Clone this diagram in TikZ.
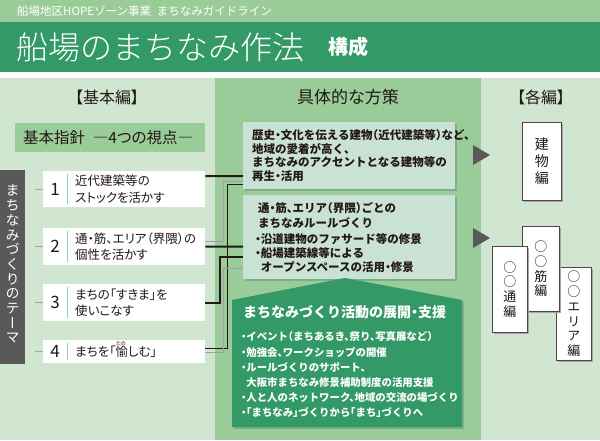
\documentclass[tikz,border=0pt]{standalone}
\usepackage{fontspec}
\setmainfont{Noto Sans CJK JP}[RawFeature=+palt]
\newfontfamily\tatefont{Noto Sans CJK JP}[RawFeature=+vert]
\newfontfamily\halffont{Noto Sans CJK JP}[RawFeature=+halt]
\newfontfamily\plainfont{Noto Sans CJK JP}
\IfFontExistsTF{Noto Sans CJK JP Light}
	{\newfontfamily\thinfont{Noto Sans CJK JP Light}}
	{\newfontfamily\thinfont{Noto Sans CJK JP}}
\usetikzlibrary{calc, positioning, shadows}

\definecolor{headGreen}{HTML}{9ACC98}
\definecolor{darkGreen}{HTML}{339966}
\definecolor{paleGreen}{HTML}{D1E6D1}
\definecolor{midGreen}{HTML}{99CC99}
\definecolor{planGreen}{HTML}{C9E2D5}
\definecolor{shadeGreen}{HTML}{7FAE82}
\definecolor{barGray}{HTML}{595959}
\definecolor{sepTeal}{HTML}{8CCFC0}
\definecolor{inkGray}{HTML}{231815}

\newcommand{\jsize}[2]{\fontsize{#1}{#2}\selectfont}

\tikzset{
	txt/.style={inner sep=0pt, text=inkGray},
	themebox/.style={fill=white, minimum width=162pt, inner sep=0pt, anchor=west},
	planbox/.style={fill=planGreen, inner sep=0pt, anchor=north west, minimum width=212pt,
		drop shadow={shadow xshift=2pt, shadow yshift=-2pt, fill=shadeGreen, opacity=1}},
	bookbox/.style={fill=white, draw=inkGray!80, line width=0.6pt, inner sep=0pt, anchor=north west,
		text=inkGray, align=center, font=\tatefont\jsize{13}{14.7},
		drop shadow={shadow xshift=1.5pt, shadow yshift=-1.5pt, fill=gray!70, opacity=1}},
	thickline/.style={line width=2pt, inkGray},
	thinline/.style={line width=0.8pt, inkGray},
	grayline/.style={line width=0.8pt, gray!75},
	sepline/.style={line width=1pt, sepTeal},
	tickline/.style={line width=0.8pt, gray!70},
}

\begin{document}
\begin{tikzpicture}[x=1pt, y=-1pt]
	\useasboundingbox (0,0) rectangle (600,440);

	% bands and columns
	\fill[headGreen] (0,0) rectangle (600,22);
	\fill[darkGreen] (0,22) rectangle (600,72);
	\fill[paleGreen] (0,78) rectangle (215,440);
	\fill[midGreen] (215,78) rectangle (481,440);
	\fill[paleGreen] (481,78) rectangle (600,440);

	\node[txt, anchor=west, text=white, font=\plainfont\jsize{11.5}{11.5}] (series) at (17,11) {船場地区HOPEゾーン事業\hspace{0.5em}まちなみガイドライン};
	\node[txt, anchor=west, text=white, font=\thinfont\jsize{32}{32}] (title) at (16,47) {船場のまちなみ作法};
	\node[txt, text=white, font=\bfseries\jsize{20}{20}, right=24pt of title] (kousei) {構成};

	% left column
	\node[txt, font=\jsize{16}{16}] (kihon) at (107,97) {【基本編】};
	\node[fill=midGreen, minimum width=190pt, minimum height=29pt, inner sep=0pt, anchor=north west] (shishin) at (15,123) {};
	\node[txt, anchor=west, font=\jsize{15.5}{15.5}] (shishinText) at ($(shishin.west)+(8,0)$) {基本指針\hspace{0.5em}―4つの視点―};

	\node[fill=barGray, minimum width=25pt, minimum height=194pt, inner sep=0pt, anchor=north west] (theme) at (0,170) {};
	\node[txt, text=white, align=center, font=\tatefont\jsize{14}{14.7}] (themeText) at ($(theme)+(0,-3)$) {ま\\ち\\な\\み\\づ\\く\\り\\の\\テ\\ー\\マ};

	\foreach \i/\y/\h/\txt in {1/189/36/{近代建築等の\\ストックを活かす},
		2/246.5/37/{通・筋、エリア（界隈）の\\個性を活かす},
		3/302.5/37/{まちの「すきま」を\\使いこなす},
		4/351.5/23/{まちを「愉しむ」}}
	{
		\node[themebox, minimum height=\h pt] (b\i) at (43,\y) {};
		\node[txt, font=\jsize{17}{17}] (n\i) at ($(b\i.west)+(12,0)$) {\i};
		\draw[sepline] ($(b\i.west)+(24,-\h/2+3)$) -- ($(b\i.west)+(24,\h/2-3)$);
		\node[txt, anchor=west, align=left, font=\jsize{12.5}{16.5}] (t\i) at ($(b\i.west)+(32,0)$) {\txt};
		\draw[tickline] (b\i.west) -- ++(-8,0);
	}
	\node[txt, font=\jsize{5}{5}] (ruby) at ($(b4.west)+(78,-8)$) {たの};

	% middle column
	\node[txt, font=\jsize{17}{17}] (housaku) at (348,97) {具体的な方策};
	\node[planbox, minimum height=67pt] (sa) at (243,122) {};
	\node[txt, anchor=west, align=left, font=\halffont\bfseries\jsize{11.5}{13.4}] (saText) at ($(sa.west)+(9,0)$) {歴史・文化を伝える建物（近代建築等）など、\\地域の愛着が高く、\\まちなみのアクセントとなる建物等の\\再生・活用};
	\node[planbox, minimum height=84pt] (sb) at (243,195) {};
	\node[txt, anchor=west, align=left, font=\halffont\bfseries\jsize{11.5}{15}] (sbHead) at ($(sb.north west)+(15,20.5)$) {通・筋、エリア（界隈）ごとの\\まちなみルールづくり};
	\node[txt, anchor=west, align=left, font=\halffont\bfseries\jsize{11.5}{14}] (sbList) at ($(sb.north west)+(12,58)$) {・沿道建物のファサード等の修景\\・船場建築線等による\\\phantom{・}オープンスペースの活用・修景};

	\fill[darkGreen, drop shadow={shadow xshift=2pt, shadow yshift=-2pt, fill=shadeGreen, opacity=1}]
		(232,300) -- (345,278) -- (462,300) -- (462,427) -- (232,427) -- cycle;
	\node[txt, anchor=west, text=white, font=\halffont\bfseries\jsize{14}{14}] (katsudo) at (243,312) {まちなみづくり活動の展開・支援};
	\node[txt, anchor=west, text=white, align=left, font=\halffont\bfseries\jsize{10.4}{15.2}] (katsudoList) at (241,375) {・イベント（まちあるき、祭り、写真展など）\\・勉強会、ワークショップの開催\\・ルールづくりのサポート、\\\phantom{・}大阪市まちなみ修景補助制度の活用支援\\・人と人のネットワーク、地域の交流の場づくり\\・「まちなみ」づくりから「まち」づくりへ};

	\draw[thickline] ([yshift=13pt]b1.east) -- ([yshift=-20.5pt]sa.west);
	\draw[grayline] ([yshift=5.5pt]b2.east) -- ++(18,0) |- ([yshift=-25.5pt]sa.west);
	\draw[thinline] ([yshift=3.5pt]b4.east) -- ++(22,0) |- ([yshift=-28.5pt]sa.west);
	\draw[thickline] (b2.east) -- ([yshift=-9.5pt]sb.west);
	\draw[thickline] (b3.east) -- ++(15,0) |- ([yshift=-20pt]sb.west);
	\draw[grayline] ([yshift=-0.5pt]b4.east) -- ++(18,0) |- ([yshift=-31pt]sb.west);

	\foreach \y in {155,238}
	{
		\fill[barGray] (473,\y-10) -- (490,\y) -- (473,\y+10) -- cycle;
	}

	% right column
	\node[txt, font=\jsize{16}{16}] (kakuhen) at (541,97) {【各編】};
	\node[bookbox, minimum width=39pt, minimum height=78pt, font=\tatefont\jsize{14}{16.7}] (kenbutsu) at (522,122) {建\\物\\編};
	\node[bookbox, minimum width=35pt, minimum height=93pt] (area) at (556,267) {○\\○\\エ\\リ\\ア\\編};
	\node[bookbox, minimum width=37pt, minimum height=85pt] (suji) at (522,226) {○\\○\\筋\\編};
	\node[bookbox, minimum width=35pt, minimum height=86pt] (dori) at (492,246) {○\\○\\通\\編};
\end{tikzpicture}
\end{document}
